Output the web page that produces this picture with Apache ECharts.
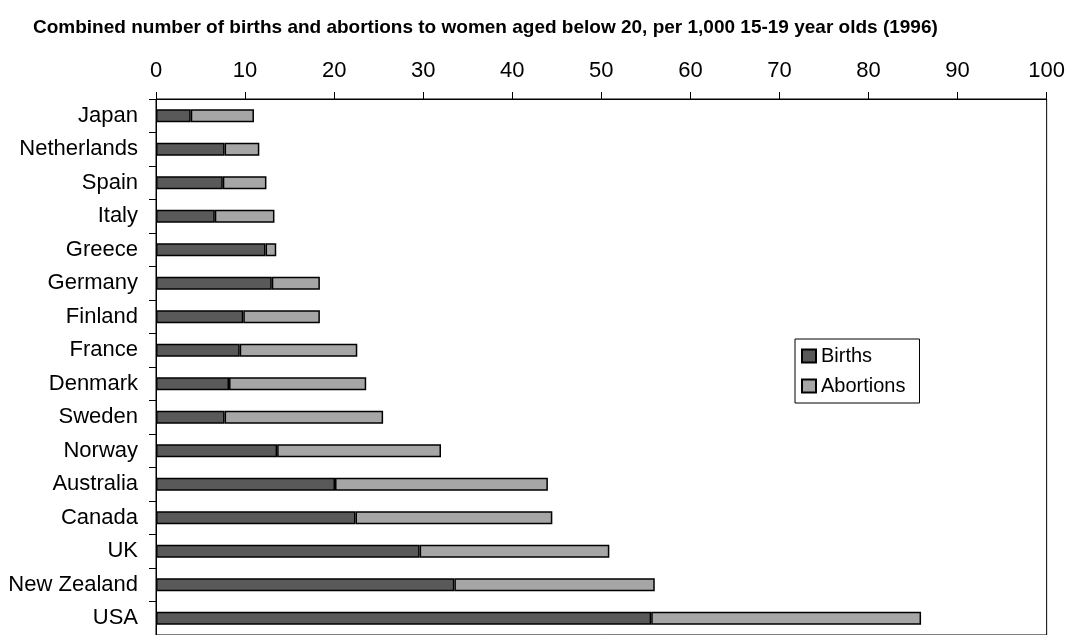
<!DOCTYPE html>
<html>
<head>
<meta charset="utf-8">
<script src="https://cdn.jsdelivr.net/npm/echarts@6/dist/echarts.min.js"></script>
<style>
  html, body { margin: 0; padding: 0; background: #fff; }
  #chart { width: 1068px; height: 635px; }
</style>
</head>
<body>
<div id="chart"></div>
<script>
// Teenage births and abortions per 1,000 women aged 15-19, 1996
const countries = ['Japan', 'Netherlands', 'Spain', 'Italy', 'Greece', 'Germany', 'Finland', 'France',
  'Denmark', 'Sweden', 'Norway', 'Australia', 'Canada', 'UK', 'New Zealand', 'USA'];
const births    = [3.9, 7.7, 7.5, 6.6, 12.3, 13.0, 9.8, 9.4, 8.2, 7.7, 13.6, 20.1, 22.4, 29.6, 33.5, 55.6];
const abortions = [7.1, 3.9, 4.9, 6.7, 1.2, 5.4, 8.6, 13.2, 15.4, 17.8, 18.4, 23.9, 22.1, 21.3, 22.5, 30.3];
const xTicks = { min: 0, max: 100, interval: 10 };

const FONT = '"Liberation Sans", Arial, sans-serif';

const chart = echarts.init(document.getElementById('chart'), null, { renderer: 'canvas' });

chart.setOption({
  animation: false,
  backgroundColor: '#ffffff',
  title: {
    text: 'Combined number of births and abortions to women aged below 20, per 1,000 15-19 year olds (1996)',
    left: 33,
    top: 18,
    padding: 0,
    textStyle: { fontFamily: FONT, fontSize: 19, fontWeight: 'bold', color: '#000' }
  },
  legend: {
    orient: 'vertical',
    left: 795,
    top: 339,
    padding: [7, 14, 7, 6],
    itemGap: 10,
    itemWidth: 14,
    itemHeight: 13,
    icon: 'rect',
    borderColor: '#000',
    borderWidth: 1,
    backgroundColor: '#fff',
    textStyle: { fontFamily: FONT, fontSize: 20, color: '#000', lineHeight: 20 },
    data: ['Births', 'Abortions']
  },
  grid: {
    left: 156,
    right: 19,
    top: 99,
    bottom: -4,
    show: true,
    borderColor: '#000',
    borderWidth: 1,
    backgroundColor: 'transparent'
  },
  xAxis: {
    type: 'value',
    position: 'top',
    min: xTicks.min,
    max: xTicks.max,
    interval: xTicks.interval,
    axisLine: { show: true, lineStyle: { color: '#000', width: 1 } },
    axisTick: { show: true, inside: false, length: 7, lineStyle: { color: '#000' } },
    axisLabel: { fontFamily: FONT, fontSize: 22, color: '#000', margin: 17 },
    splitLine: { show: false }
  },
  yAxis: {
    type: 'category',
    inverse: true,
    data: countries,
    axisLine: { show: true, lineStyle: { color: '#000', width: 1 } },
    axisTick: { show: true, inside: false, length: 7, lineStyle: { color: '#000' } },
    axisLabel: { fontFamily: FONT, fontSize: 22, color: '#000', margin: 18 },
    splitLine: { show: false }
  },
  series: [
    {
      name: 'Births',
      type: 'bar',
      stack: 'total',
      barWidth: 13,
      data: births,
      itemStyle: { color: '#595959', borderColor: '#000', borderWidth: 1.5 }
    },
    {
      name: 'Abortions',
      type: 'bar',
      stack: 'total',
      barWidth: 13,
      data: abortions,
      itemStyle: { color: '#a6a6a6', borderColor: '#000', borderWidth: 1.5 }
    }
  ]
});
</script>
</body>
</html>
